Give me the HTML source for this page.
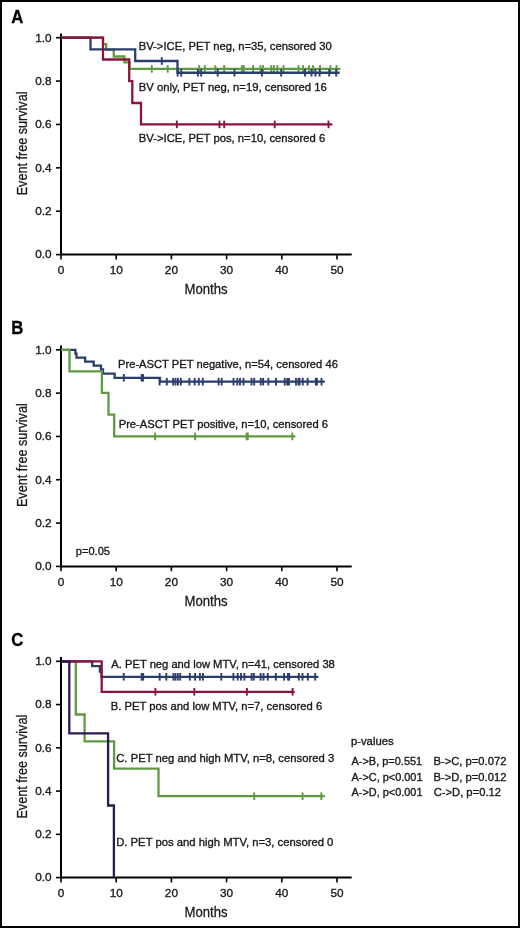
<!DOCTYPE html>
<html><head><meta charset="utf-8"><title>Event free survival</title>
<style>
html,body{margin:0;padding:0;background:#fff;}
body{width:520px;height:928px;overflow:hidden;}
.fig{position:relative;width:516px;height:924px;border:2px solid #000;background:#fff;}
svg{position:absolute;left:-2px;top:-2px;will-change:transform;}
svg text{font-family:"Liberation Sans",sans-serif;fill:#1a1a1a;stroke:#1a1a1a;stroke-width:0.35px;}
svg text.L{fill:#000;stroke:#000;stroke-width:0.35px;}
svg text.t{stroke-width:0.3px;}
</style></head>
<body><div class="fig">
<svg width="520" height="928" viewBox="0 0 520 928">
<line x1="61" y1="33.40" x2="61" y2="255.60" stroke="#000" stroke-width="2"/>
<line x1="60" y1="254.60" x2="351.7" y2="254.60" stroke="#000" stroke-width="2"/>
<line x1="56" y1="254.60" x2="61" y2="254.60" stroke="#000" stroke-width="1.6"/>
<text x="51.60" y="258.45" font-size="11.8" text-anchor="end" font-weight="normal" >0.0</text>
<line x1="56" y1="211.22" x2="61" y2="211.22" stroke="#000" stroke-width="1.6"/>
<text x="51.60" y="215.07" font-size="11.8" text-anchor="end" font-weight="normal" >0.2</text>
<line x1="56" y1="167.84" x2="61" y2="167.84" stroke="#000" stroke-width="1.6"/>
<text x="51.60" y="171.69" font-size="11.8" text-anchor="end" font-weight="normal" >0.4</text>
<line x1="56" y1="124.46" x2="61" y2="124.46" stroke="#000" stroke-width="1.6"/>
<text x="51.60" y="128.31" font-size="11.8" text-anchor="end" font-weight="normal" >0.6</text>
<line x1="56" y1="81.08" x2="61" y2="81.08" stroke="#000" stroke-width="1.6"/>
<text x="51.60" y="84.93" font-size="11.8" text-anchor="end" font-weight="normal" >0.8</text>
<line x1="56" y1="37.70" x2="61" y2="37.70" stroke="#000" stroke-width="1.6"/>
<text x="51.60" y="41.55" font-size="11.8" text-anchor="end" font-weight="normal" >1.0</text>
<line x1="61.00" y1="254.60" x2="61.00" y2="259.40" stroke="#000" stroke-width="1.6"/>
<text x="61.00" y="274.00" font-size="11.8" text-anchor="middle" font-weight="normal" >0</text>
<line x1="116.20" y1="254.60" x2="116.20" y2="259.40" stroke="#000" stroke-width="1.6"/>
<text x="116.20" y="274.00" font-size="11.8" text-anchor="middle" font-weight="normal" >10</text>
<line x1="171.40" y1="254.60" x2="171.40" y2="259.40" stroke="#000" stroke-width="1.6"/>
<text x="171.40" y="274.00" font-size="11.8" text-anchor="middle" font-weight="normal" >20</text>
<line x1="226.60" y1="254.60" x2="226.60" y2="259.40" stroke="#000" stroke-width="1.6"/>
<text x="226.60" y="274.00" font-size="11.8" text-anchor="middle" font-weight="normal" >30</text>
<line x1="281.80" y1="254.60" x2="281.80" y2="259.40" stroke="#000" stroke-width="1.6"/>
<text x="281.80" y="274.00" font-size="11.8" text-anchor="middle" font-weight="normal" >40</text>
<line x1="337.00" y1="254.60" x2="337.00" y2="259.40" stroke="#000" stroke-width="1.6"/>
<text x="337.00" y="274.00" font-size="11.8" text-anchor="middle" font-weight="normal" >50</text>
<text transform="translate(184.55,293.90) scale(0.865,1)" font-size="15.2" class="t">Months</text>
<text transform="translate(26.9,195.30) rotate(-90) scale(0.815,1)" font-size="15.5" class="t">Event free survival</text>
<text transform="translate(11.3,22.60) scale(0.9,1)" font-size="18.6" font-weight="bold" class="L">A</text>
<path d="M61,37.7 H103 V44.2 H106.2 V49.9 H113.8 V56.5 H124.4 V62.3 H129.5 V68.9 H340.4" fill="none" stroke="#5f9a42" stroke-width="2.3" stroke-linejoin="miter" stroke-linecap="butt"/>
<line x1="151.8" y1="65.10000000000001" x2="151.8" y2="72.7" stroke="#5f9a42" stroke-width="1.9"/>
<line x1="167.7" y1="65.10000000000001" x2="167.7" y2="72.7" stroke="#5f9a42" stroke-width="1.9"/>
<line x1="199.2" y1="65.10000000000001" x2="199.2" y2="72.7" stroke="#5f9a42" stroke-width="1.9"/>
<line x1="204.8" y1="65.10000000000001" x2="204.8" y2="72.7" stroke="#5f9a42" stroke-width="1.9"/>
<line x1="215.4" y1="65.10000000000001" x2="215.4" y2="72.7" stroke="#5f9a42" stroke-width="1.9"/>
<line x1="224.2" y1="65.10000000000001" x2="224.2" y2="72.7" stroke="#5f9a42" stroke-width="1.9"/>
<line x1="241.9" y1="65.10000000000001" x2="241.9" y2="72.7" stroke="#5f9a42" stroke-width="1.9"/>
<line x1="243.8" y1="65.10000000000001" x2="243.8" y2="72.7" stroke="#5f9a42" stroke-width="1.9"/>
<line x1="253.1" y1="65.10000000000001" x2="253.1" y2="72.7" stroke="#5f9a42" stroke-width="1.9"/>
<line x1="260.4" y1="65.10000000000001" x2="260.4" y2="72.7" stroke="#5f9a42" stroke-width="1.9"/>
<line x1="263.1" y1="65.10000000000001" x2="263.1" y2="72.7" stroke="#5f9a42" stroke-width="1.9"/>
<line x1="271.2" y1="65.10000000000001" x2="271.2" y2="72.7" stroke="#5f9a42" stroke-width="1.9"/>
<line x1="273.8" y1="65.10000000000001" x2="273.8" y2="72.7" stroke="#5f9a42" stroke-width="1.9"/>
<line x1="277.3" y1="65.10000000000001" x2="277.3" y2="72.7" stroke="#5f9a42" stroke-width="1.9"/>
<line x1="283.5" y1="65.10000000000001" x2="283.5" y2="72.7" stroke="#5f9a42" stroke-width="1.9"/>
<line x1="298.5" y1="65.10000000000001" x2="298.5" y2="72.7" stroke="#5f9a42" stroke-width="1.9"/>
<line x1="303.1" y1="65.10000000000001" x2="303.1" y2="72.7" stroke="#5f9a42" stroke-width="1.9"/>
<line x1="309.1" y1="65.10000000000001" x2="309.1" y2="72.7" stroke="#5f9a42" stroke-width="1.9"/>
<line x1="313.1" y1="65.10000000000001" x2="313.1" y2="72.7" stroke="#5f9a42" stroke-width="1.9"/>
<line x1="320" y1="65.10000000000001" x2="320" y2="72.7" stroke="#5f9a42" stroke-width="1.9"/>
<line x1="330.4" y1="65.10000000000001" x2="330.4" y2="72.7" stroke="#5f9a42" stroke-width="1.9"/>
<line x1="336.5" y1="65.10000000000001" x2="336.5" y2="72.7" stroke="#5f9a42" stroke-width="1.9"/>
<path d="M61,37.7 H90.5 V49.3 H135.2 V61 H177.5 V72.75 H339.6" fill="none" stroke="#2a3d6c" stroke-width="2.3" stroke-linejoin="miter" stroke-linecap="butt"/>
<line x1="161.8" y1="57.2" x2="161.8" y2="64.8" stroke="#2a3d6c" stroke-width="1.9"/>
<line x1="177.7" y1="68.95" x2="177.7" y2="76.55" stroke="#2a3d6c" stroke-width="1.9"/>
<line x1="181.2" y1="68.95" x2="181.2" y2="76.55" stroke="#2a3d6c" stroke-width="1.9"/>
<line x1="197.9" y1="68.95" x2="197.9" y2="76.55" stroke="#2a3d6c" stroke-width="1.9"/>
<line x1="201.2" y1="68.95" x2="201.2" y2="76.55" stroke="#2a3d6c" stroke-width="1.9"/>
<line x1="217.7" y1="68.95" x2="217.7" y2="76.55" stroke="#2a3d6c" stroke-width="1.9"/>
<line x1="234.5" y1="68.95" x2="234.5" y2="76.55" stroke="#2a3d6c" stroke-width="1.9"/>
<line x1="261.9" y1="68.95" x2="261.9" y2="76.55" stroke="#2a3d6c" stroke-width="1.9"/>
<line x1="281.2" y1="68.95" x2="281.2" y2="76.55" stroke="#2a3d6c" stroke-width="1.9"/>
<line x1="305" y1="68.95" x2="305" y2="76.55" stroke="#2a3d6c" stroke-width="1.9"/>
<line x1="311.5" y1="68.95" x2="311.5" y2="76.55" stroke="#2a3d6c" stroke-width="1.9"/>
<line x1="315.4" y1="68.95" x2="315.4" y2="76.55" stroke="#2a3d6c" stroke-width="1.9"/>
<line x1="319.6" y1="68.95" x2="319.6" y2="76.55" stroke="#2a3d6c" stroke-width="1.9"/>
<line x1="329.2" y1="68.95" x2="329.2" y2="76.55" stroke="#2a3d6c" stroke-width="1.9"/>
<line x1="336.2" y1="68.95" x2="336.2" y2="76.55" stroke="#2a3d6c" stroke-width="1.9"/>
<path d="M61,37.7 H103 V59.5 H129.2 V81.1 H132.3 V103 H141 V124.4 H332.3" fill="none" stroke="#8a1539" stroke-width="2.3" stroke-linejoin="miter" stroke-linecap="butt"/>
<line x1="176.8" y1="120.60000000000001" x2="176.8" y2="128.20000000000002" stroke="#8a1539" stroke-width="1.9"/>
<line x1="219.5" y1="120.60000000000001" x2="219.5" y2="128.20000000000002" stroke="#8a1539" stroke-width="1.9"/>
<line x1="224.2" y1="120.60000000000001" x2="224.2" y2="128.20000000000002" stroke="#8a1539" stroke-width="1.9"/>
<line x1="274.7" y1="120.60000000000001" x2="274.7" y2="128.20000000000002" stroke="#8a1539" stroke-width="1.9"/>
<line x1="328.5" y1="120.60000000000001" x2="328.5" y2="128.20000000000002" stroke="#8a1539" stroke-width="1.9"/>
<text x="138.70" y="49.80" font-size="11.3" textLength="193.00" lengthAdjust="spacingAndGlyphs">BV-&gt;ICE, PET neg, n=35, censored 30</text>
<text x="138.80" y="90.80" font-size="11.3" textLength="188.04" lengthAdjust="spacingAndGlyphs">BV only, PET neg, n=19, censored 16</text>
<text x="138.80" y="141.70" font-size="11.3" textLength="186.38" lengthAdjust="spacingAndGlyphs">BV-&gt;ICE, PET pos, n=10, censored 6</text>
<line x1="61" y1="345.50" x2="61" y2="567.40" stroke="#000" stroke-width="2"/>
<line x1="60" y1="566.40" x2="351.7" y2="566.40" stroke="#000" stroke-width="2"/>
<line x1="56" y1="566.40" x2="61" y2="566.40" stroke="#000" stroke-width="1.6"/>
<text x="51.60" y="570.25" font-size="11.8" text-anchor="end" font-weight="normal" >0.0</text>
<line x1="56" y1="523.08" x2="61" y2="523.08" stroke="#000" stroke-width="1.6"/>
<text x="51.60" y="526.93" font-size="11.8" text-anchor="end" font-weight="normal" >0.2</text>
<line x1="56" y1="479.76" x2="61" y2="479.76" stroke="#000" stroke-width="1.6"/>
<text x="51.60" y="483.61" font-size="11.8" text-anchor="end" font-weight="normal" >0.4</text>
<line x1="56" y1="436.44" x2="61" y2="436.44" stroke="#000" stroke-width="1.6"/>
<text x="51.60" y="440.29" font-size="11.8" text-anchor="end" font-weight="normal" >0.6</text>
<line x1="56" y1="393.12" x2="61" y2="393.12" stroke="#000" stroke-width="1.6"/>
<text x="51.60" y="396.97" font-size="11.8" text-anchor="end" font-weight="normal" >0.8</text>
<line x1="56" y1="349.80" x2="61" y2="349.80" stroke="#000" stroke-width="1.6"/>
<text x="51.60" y="353.65" font-size="11.8" text-anchor="end" font-weight="normal" >1.0</text>
<line x1="61.00" y1="566.40" x2="61.00" y2="571.20" stroke="#000" stroke-width="1.6"/>
<text x="61.00" y="585.80" font-size="11.8" text-anchor="middle" font-weight="normal" >0</text>
<line x1="116.20" y1="566.40" x2="116.20" y2="571.20" stroke="#000" stroke-width="1.6"/>
<text x="116.20" y="585.80" font-size="11.8" text-anchor="middle" font-weight="normal" >10</text>
<line x1="171.40" y1="566.40" x2="171.40" y2="571.20" stroke="#000" stroke-width="1.6"/>
<text x="171.40" y="585.80" font-size="11.8" text-anchor="middle" font-weight="normal" >20</text>
<line x1="226.60" y1="566.40" x2="226.60" y2="571.20" stroke="#000" stroke-width="1.6"/>
<text x="226.60" y="585.80" font-size="11.8" text-anchor="middle" font-weight="normal" >30</text>
<line x1="281.80" y1="566.40" x2="281.80" y2="571.20" stroke="#000" stroke-width="1.6"/>
<text x="281.80" y="585.80" font-size="11.8" text-anchor="middle" font-weight="normal" >40</text>
<line x1="337.00" y1="566.40" x2="337.00" y2="571.20" stroke="#000" stroke-width="1.6"/>
<text x="337.00" y="585.80" font-size="11.8" text-anchor="middle" font-weight="normal" >50</text>
<text transform="translate(184.55,605.70) scale(0.865,1)" font-size="15.2" class="t">Months</text>
<text transform="translate(26.9,507.10) rotate(-90) scale(0.815,1)" font-size="15.5" class="t">Event free survival</text>
<text transform="translate(11.3,334.40) scale(0.9,1)" font-size="18.6" font-weight="bold" class="L">B</text>
<path d="M61,349.8 H75.4 V353.6 H76.5 V357.6 H85.2 V361.7 H93.7 V365.6 H101 V369.4 H103 V373.6 H114.6 V377.8 H160 V381.7 H324.9" fill="none" stroke="#2a3d6c" stroke-width="2.3" stroke-linejoin="miter" stroke-linecap="butt"/>
<line x1="123.8" y1="374.0" x2="123.8" y2="381.6" stroke="#2a3d6c" stroke-width="1.9"/>
<line x1="141.7" y1="374.0" x2="141.7" y2="381.6" stroke="#2a3d6c" stroke-width="1.9"/>
<line x1="143" y1="374.0" x2="143" y2="381.6" stroke="#2a3d6c" stroke-width="1.9"/>
<line x1="159.6" y1="377.9" x2="159.6" y2="385.5" stroke="#2a3d6c" stroke-width="1.9"/>
<line x1="166.8" y1="377.9" x2="166.8" y2="385.5" stroke="#2a3d6c" stroke-width="1.9"/>
<line x1="173.1" y1="377.9" x2="173.1" y2="385.5" stroke="#2a3d6c" stroke-width="1.9"/>
<line x1="175.5" y1="377.9" x2="175.5" y2="385.5" stroke="#2a3d6c" stroke-width="1.9"/>
<line x1="177.9" y1="377.9" x2="177.9" y2="385.5" stroke="#2a3d6c" stroke-width="1.9"/>
<line x1="180.8" y1="377.9" x2="180.8" y2="385.5" stroke="#2a3d6c" stroke-width="1.9"/>
<line x1="189.4" y1="377.9" x2="189.4" y2="385.5" stroke="#2a3d6c" stroke-width="1.9"/>
<line x1="194.7" y1="377.9" x2="194.7" y2="385.5" stroke="#2a3d6c" stroke-width="1.9"/>
<line x1="198.8" y1="377.9" x2="198.8" y2="385.5" stroke="#2a3d6c" stroke-width="1.9"/>
<line x1="202.8" y1="377.9" x2="202.8" y2="385.5" stroke="#2a3d6c" stroke-width="1.9"/>
<line x1="218.6" y1="377.9" x2="218.6" y2="385.5" stroke="#2a3d6c" stroke-width="1.9"/>
<line x1="221.7" y1="377.9" x2="221.7" y2="385.5" stroke="#2a3d6c" stroke-width="1.9"/>
<line x1="233.5" y1="377.9" x2="233.5" y2="385.5" stroke="#2a3d6c" stroke-width="1.9"/>
<line x1="237.3" y1="377.9" x2="237.3" y2="385.5" stroke="#2a3d6c" stroke-width="1.9"/>
<line x1="240" y1="377.9" x2="240" y2="385.5" stroke="#2a3d6c" stroke-width="1.9"/>
<line x1="243.5" y1="377.9" x2="243.5" y2="385.5" stroke="#2a3d6c" stroke-width="1.9"/>
<line x1="251.5" y1="377.9" x2="251.5" y2="385.5" stroke="#2a3d6c" stroke-width="1.9"/>
<line x1="254.2" y1="377.9" x2="254.2" y2="385.5" stroke="#2a3d6c" stroke-width="1.9"/>
<line x1="260.7" y1="377.9" x2="260.7" y2="385.5" stroke="#2a3d6c" stroke-width="1.9"/>
<line x1="263.1" y1="377.9" x2="263.1" y2="385.5" stroke="#2a3d6c" stroke-width="1.9"/>
<line x1="268.4" y1="377.9" x2="268.4" y2="385.5" stroke="#2a3d6c" stroke-width="1.9"/>
<line x1="276" y1="377.9" x2="276" y2="385.5" stroke="#2a3d6c" stroke-width="1.9"/>
<line x1="284.7" y1="377.9" x2="284.7" y2="385.5" stroke="#2a3d6c" stroke-width="1.9"/>
<line x1="287.2" y1="377.9" x2="287.2" y2="385.5" stroke="#2a3d6c" stroke-width="1.9"/>
<line x1="289" y1="377.9" x2="289" y2="385.5" stroke="#2a3d6c" stroke-width="1.9"/>
<line x1="296" y1="377.9" x2="296" y2="385.5" stroke="#2a3d6c" stroke-width="1.9"/>
<line x1="298.5" y1="377.9" x2="298.5" y2="385.5" stroke="#2a3d6c" stroke-width="1.9"/>
<line x1="299.6" y1="377.9" x2="299.6" y2="385.5" stroke="#2a3d6c" stroke-width="1.9"/>
<line x1="302.8" y1="377.9" x2="302.8" y2="385.5" stroke="#2a3d6c" stroke-width="1.9"/>
<line x1="307.6" y1="377.9" x2="307.6" y2="385.5" stroke="#2a3d6c" stroke-width="1.9"/>
<line x1="315.8" y1="377.9" x2="315.8" y2="385.5" stroke="#2a3d6c" stroke-width="1.9"/>
<line x1="316.9" y1="377.9" x2="316.9" y2="385.5" stroke="#2a3d6c" stroke-width="1.9"/>
<line x1="321.5" y1="377.9" x2="321.5" y2="385.5" stroke="#2a3d6c" stroke-width="1.9"/>
<path d="M61,349.8 H69.5 V371.3 H101.9 V392.8 H108.5 V414.6 H114.2 V436.4 H295.4" fill="none" stroke="#5f9a42" stroke-width="2.3" stroke-linejoin="miter" stroke-linecap="butt"/>
<line x1="155.1" y1="432.59999999999997" x2="155.1" y2="440.2" stroke="#5f9a42" stroke-width="1.9"/>
<line x1="195.1" y1="432.59999999999997" x2="195.1" y2="440.2" stroke="#5f9a42" stroke-width="1.9"/>
<line x1="246.6" y1="432.59999999999997" x2="246.6" y2="440.2" stroke="#5f9a42" stroke-width="1.9"/>
<line x1="247.8" y1="432.59999999999997" x2="247.8" y2="440.2" stroke="#5f9a42" stroke-width="1.9"/>
<line x1="292.3" y1="432.59999999999997" x2="292.3" y2="440.2" stroke="#5f9a42" stroke-width="1.9"/>
<text x="118.00" y="368.40" font-size="11.3" textLength="219.85" lengthAdjust="spacingAndGlyphs">Pre-ASCT PET negative, n=54, censored 46</text>
<text x="118.70" y="428.00" font-size="11.3" textLength="209.39" lengthAdjust="spacingAndGlyphs">Pre-ASCT PET positive, n=10, censored 6</text>
<text x="75.82" y="554.90" font-size="11.3" textLength="34.15" lengthAdjust="spacingAndGlyphs">p=0.05</text>
<line x1="61" y1="657.00" x2="61" y2="878.60" stroke="#000" stroke-width="2"/>
<line x1="60" y1="877.60" x2="351.7" y2="877.60" stroke="#000" stroke-width="2"/>
<line x1="56" y1="877.60" x2="61" y2="877.60" stroke="#000" stroke-width="1.6"/>
<text x="51.60" y="881.45" font-size="11.8" text-anchor="end" font-weight="normal" >0.0</text>
<line x1="56" y1="834.34" x2="61" y2="834.34" stroke="#000" stroke-width="1.6"/>
<text x="51.60" y="838.19" font-size="11.8" text-anchor="end" font-weight="normal" >0.2</text>
<line x1="56" y1="791.08" x2="61" y2="791.08" stroke="#000" stroke-width="1.6"/>
<text x="51.60" y="794.93" font-size="11.8" text-anchor="end" font-weight="normal" >0.4</text>
<line x1="56" y1="747.82" x2="61" y2="747.82" stroke="#000" stroke-width="1.6"/>
<text x="51.60" y="751.67" font-size="11.8" text-anchor="end" font-weight="normal" >0.6</text>
<line x1="56" y1="704.56" x2="61" y2="704.56" stroke="#000" stroke-width="1.6"/>
<text x="51.60" y="708.41" font-size="11.8" text-anchor="end" font-weight="normal" >0.8</text>
<line x1="56" y1="661.30" x2="61" y2="661.30" stroke="#000" stroke-width="1.6"/>
<text x="51.60" y="665.15" font-size="11.8" text-anchor="end" font-weight="normal" >1.0</text>
<line x1="61.00" y1="877.60" x2="61.00" y2="882.40" stroke="#000" stroke-width="1.6"/>
<text x="61.00" y="897.00" font-size="11.8" text-anchor="middle" font-weight="normal" >0</text>
<line x1="116.20" y1="877.60" x2="116.20" y2="882.40" stroke="#000" stroke-width="1.6"/>
<text x="116.20" y="897.00" font-size="11.8" text-anchor="middle" font-weight="normal" >10</text>
<line x1="171.40" y1="877.60" x2="171.40" y2="882.40" stroke="#000" stroke-width="1.6"/>
<text x="171.40" y="897.00" font-size="11.8" text-anchor="middle" font-weight="normal" >20</text>
<line x1="226.60" y1="877.60" x2="226.60" y2="882.40" stroke="#000" stroke-width="1.6"/>
<text x="226.60" y="897.00" font-size="11.8" text-anchor="middle" font-weight="normal" >30</text>
<line x1="281.80" y1="877.60" x2="281.80" y2="882.40" stroke="#000" stroke-width="1.6"/>
<text x="281.80" y="897.00" font-size="11.8" text-anchor="middle" font-weight="normal" >40</text>
<line x1="337.00" y1="877.60" x2="337.00" y2="882.40" stroke="#000" stroke-width="1.6"/>
<text x="337.00" y="897.00" font-size="11.8" text-anchor="middle" font-weight="normal" >50</text>
<text transform="translate(184.55,917.20) scale(0.865,1)" font-size="15.2" class="t">Months</text>
<text transform="translate(26.9,818.60) rotate(-90) scale(0.815,1)" font-size="15.5" class="t">Event free survival</text>
<text transform="translate(11.3,645.90) scale(0.9,1)" font-size="18.6" font-weight="bold" class="L">C</text>
<path d="M61,661.3 H75.8 V714.5 H84.6 V741.4 H114.1 V768.7 H158.5 V796.2 H324.8" fill="none" stroke="#5f9a42" stroke-width="2.3" stroke-linejoin="miter" stroke-linecap="butt"/>
<line x1="254.2" y1="792.4000000000001" x2="254.2" y2="800.0" stroke="#5f9a42" stroke-width="1.9"/>
<line x1="302.6" y1="792.4000000000001" x2="302.6" y2="800.0" stroke="#5f9a42" stroke-width="1.9"/>
<line x1="321.3" y1="792.4000000000001" x2="321.3" y2="800.0" stroke="#5f9a42" stroke-width="1.9"/>
<path d="M61,661.3 H92.2 V666.2 H99.9 V671.7 H101.5 V676.8 H318.4" fill="none" stroke="#2a3d6c" stroke-width="2.3" stroke-linejoin="miter" stroke-linecap="butt"/>
<line x1="123.7" y1="673.0" x2="123.7" y2="680.5999999999999" stroke="#2a3d6c" stroke-width="1.9"/>
<line x1="141.7" y1="673.0" x2="141.7" y2="680.5999999999999" stroke="#2a3d6c" stroke-width="1.9"/>
<line x1="143.2" y1="673.0" x2="143.2" y2="680.5999999999999" stroke="#2a3d6c" stroke-width="1.9"/>
<line x1="159.7" y1="673.0" x2="159.7" y2="680.5999999999999" stroke="#2a3d6c" stroke-width="1.9"/>
<line x1="166.3" y1="673.0" x2="166.3" y2="680.5999999999999" stroke="#2a3d6c" stroke-width="1.9"/>
<line x1="173.5" y1="673.0" x2="173.5" y2="680.5999999999999" stroke="#2a3d6c" stroke-width="1.9"/>
<line x1="175.4" y1="673.0" x2="175.4" y2="680.5999999999999" stroke="#2a3d6c" stroke-width="1.9"/>
<line x1="177.8" y1="673.0" x2="177.8" y2="680.5999999999999" stroke="#2a3d6c" stroke-width="1.9"/>
<line x1="180.2" y1="673.0" x2="180.2" y2="680.5999999999999" stroke="#2a3d6c" stroke-width="1.9"/>
<line x1="189.8" y1="673.0" x2="189.8" y2="680.5999999999999" stroke="#2a3d6c" stroke-width="1.9"/>
<line x1="195.1" y1="673.0" x2="195.1" y2="680.5999999999999" stroke="#2a3d6c" stroke-width="1.9"/>
<line x1="199.9" y1="673.0" x2="199.9" y2="680.5999999999999" stroke="#2a3d6c" stroke-width="1.9"/>
<line x1="202.9" y1="673.0" x2="202.9" y2="680.5999999999999" stroke="#2a3d6c" stroke-width="1.9"/>
<line x1="221.3" y1="673.0" x2="221.3" y2="680.5999999999999" stroke="#2a3d6c" stroke-width="1.9"/>
<line x1="233.4" y1="673.0" x2="233.4" y2="680.5999999999999" stroke="#2a3d6c" stroke-width="1.9"/>
<line x1="237.7" y1="673.0" x2="237.7" y2="680.5999999999999" stroke="#2a3d6c" stroke-width="1.9"/>
<line x1="241" y1="673.0" x2="241" y2="680.5999999999999" stroke="#2a3d6c" stroke-width="1.9"/>
<line x1="244.4" y1="673.0" x2="244.4" y2="680.5999999999999" stroke="#2a3d6c" stroke-width="1.9"/>
<line x1="251.6" y1="673.0" x2="251.6" y2="680.5999999999999" stroke="#2a3d6c" stroke-width="1.9"/>
<line x1="253.8" y1="673.0" x2="253.8" y2="680.5999999999999" stroke="#2a3d6c" stroke-width="1.9"/>
<line x1="260.6" y1="673.0" x2="260.6" y2="680.5999999999999" stroke="#2a3d6c" stroke-width="1.9"/>
<line x1="263.5" y1="673.0" x2="263.5" y2="680.5999999999999" stroke="#2a3d6c" stroke-width="1.9"/>
<line x1="267.8" y1="673.0" x2="267.8" y2="680.5999999999999" stroke="#2a3d6c" stroke-width="1.9"/>
<line x1="275.8" y1="673.0" x2="275.8" y2="680.5999999999999" stroke="#2a3d6c" stroke-width="1.9"/>
<line x1="284.1" y1="673.0" x2="284.1" y2="680.5999999999999" stroke="#2a3d6c" stroke-width="1.9"/>
<line x1="288" y1="673.0" x2="288" y2="680.5999999999999" stroke="#2a3d6c" stroke-width="1.9"/>
<line x1="289.2" y1="673.0" x2="289.2" y2="680.5999999999999" stroke="#2a3d6c" stroke-width="1.9"/>
<line x1="298.8" y1="673.0" x2="298.8" y2="680.5999999999999" stroke="#2a3d6c" stroke-width="1.9"/>
<line x1="302.5" y1="673.0" x2="302.5" y2="680.5999999999999" stroke="#2a3d6c" stroke-width="1.9"/>
<line x1="307.8" y1="673.0" x2="307.8" y2="680.5999999999999" stroke="#2a3d6c" stroke-width="1.9"/>
<line x1="315.2" y1="673.0" x2="315.2" y2="680.5999999999999" stroke="#2a3d6c" stroke-width="1.9"/>
<path d="M61,661.3 H101.7 V691.8 H294.7" fill="none" stroke="#8a1539" stroke-width="2.3" stroke-linejoin="miter" stroke-linecap="butt"/>
<line x1="155.4" y1="688.0" x2="155.4" y2="695.5999999999999" stroke="#8a1539" stroke-width="1.9"/>
<line x1="194.3" y1="688.0" x2="194.3" y2="695.5999999999999" stroke="#8a1539" stroke-width="1.9"/>
<line x1="246.9" y1="688.0" x2="246.9" y2="695.5999999999999" stroke="#8a1539" stroke-width="1.9"/>
<line x1="292.6" y1="688.0" x2="292.6" y2="695.5999999999999" stroke="#8a1539" stroke-width="1.9"/>
<path d="M61,661.3 H69.3 V733.4 H108.1 V805.5 H113.9 V877.6" fill="none" stroke="#2c1852" stroke-width="2.3" stroke-linejoin="miter" stroke-linecap="butt"/>
<text x="111.30" y="668.20" font-size="11.3" textLength="223.56" lengthAdjust="spacingAndGlyphs">A. PET neg and low MTV, n=41, censored 38</text>
<text x="110.80" y="709.80" font-size="11.3" textLength="211.38" lengthAdjust="spacingAndGlyphs">B. PET pos and low MTV, n=7, censored 6</text>
<text x="116.23" y="762.10" font-size="11.3" textLength="217.95" lengthAdjust="spacingAndGlyphs">C. PET neg and high MTV, n=8, censored 3</text>
<text x="116.20" y="845.60" font-size="11.3" textLength="217.22" lengthAdjust="spacingAndGlyphs">D. PET pos and high MTV, n=3, censored 0</text>
<text x="350.92" y="744.70" font-size="11.3" textLength="42.77" lengthAdjust="spacingAndGlyphs">p-values</text>
<text x="351.50" y="765.00" font-size="11.3" textLength="70.70" lengthAdjust="spacingAndGlyphs">A-&gt;B, p=0.551</text>
<text x="433.50" y="765.00" font-size="11.3" textLength="72.91" lengthAdjust="spacingAndGlyphs">B-&gt;C, p=0.072</text>
<text x="351.50" y="780.50" font-size="11.3" textLength="71.00" lengthAdjust="spacingAndGlyphs">A-&gt;C, p&lt;0.001</text>
<text x="433.50" y="780.50" font-size="11.3" textLength="72.91" lengthAdjust="spacingAndGlyphs">B-&gt;D, p=0.012</text>
<text x="351.50" y="796.20" font-size="11.3" textLength="71.00" lengthAdjust="spacingAndGlyphs">A-&gt;D, p&lt;0.001</text>
<text x="433.63" y="796.20" font-size="11.3" textLength="67.41" lengthAdjust="spacingAndGlyphs">C-&gt;D, p=0.12</text>
</svg>
</div></body></html>
